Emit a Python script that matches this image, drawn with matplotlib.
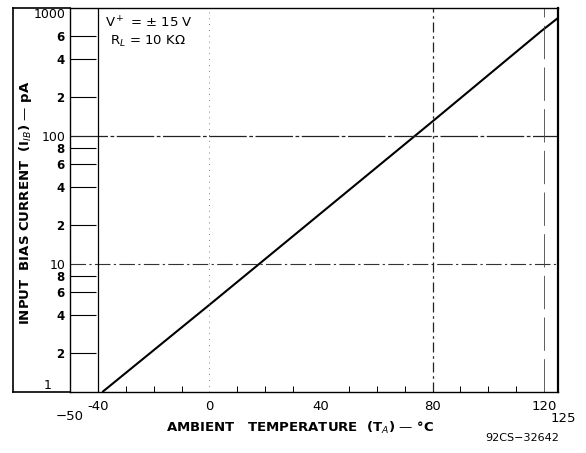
import numpy as np
import matplotlib.pyplot as plt
from matplotlib.lines import Line2D
from matplotlib.ticker import FixedLocator, NullFormatter

plt.rc('font', family='DejaVu Sans', size=9)

# bias current vs ambient temperature
temp_c = [-38.4, 0, 19, 80, 119, 125]
bias_pa = [1.0, 4.8, 10.5, 130, 660, 836]

x_major = [-40, 0, 40, 80, 120]
x_minor = [-30, -20, -10, 10, 20, 30, 50, 60, 70, 90, 100, 110]
y_major = [1, 10, 100, 1000]
y_minor = [2, 4, 6, 8, 20, 40, 60, 80, 200, 400, 600]
y_minor_labels = ['2', '4', '6', '8', '2', '4', '6', '8', '2', '4', '6']

W, H = 586, 453
fig = plt.figure(figsize=(W / 100, H / 100), dpi=100)
left, right, top, bottom = 70, 558, 8, 392
ax = fig.add_axes([left / W, 1 - bottom / H, (right - left) / W, (bottom - top) / H])

ax.set_yscale('log')
ax.set_xlim(-50, 125)
ax.set_ylim(1, 1000)

ax.plot(temp_c, bias_pa, color='black', linewidth=1.5, solid_capstyle='butt')

# grid as on the datasheet
ax.axhline(10, color='#333333', linewidth=0.8, linestyle=(0, (14, 3, 2, 3)))
ax.axhline(100, color='#222222', linewidth=0.9, linestyle=(0, (30, 2, 3, 2)))
ax.axvline(-40, color='black', linewidth=0.9)
ax.axvline(80, color='#222222', linewidth=0.9, linestyle=(0, (8, 3, 2, 3)))
ax.axvline(0, color='#555555', linewidth=0.6, linestyle=(0, (1, 6)))
ax.axvline(120, color='#444444', linewidth=0.6, linestyle=(0, (40, 10)))

for s in ['left', 'top', 'bottom']:
    ax.spines[s].set_linewidth(1.0)
ax.spines['right'].set_linewidth(1.6)

ax.yaxis.set_major_locator(FixedLocator(y_major))
ax.set_yticklabels(['1', '10', '100', '1000'])
ax.set_yticks(y_minor, y_minor_labels, minor=True)
ax.tick_params(axis='y', which='major', length=0, pad=3, labelsize=9)
ax.tick_params(axis='y', which='minor', direction='in', length=18.7, width=0.8,
               pad=4, labelsize=8.5)
for t in ax.yaxis.get_minor_ticks():
    t.label1.set_fontweight('bold')
ylabs = ax.yaxis.get_majorticklabels()
ylabs[0].set_verticalalignment('bottom')
ylabs[0].set_x(-0.03)
ylabs[-1].set_verticalalignment('top')

ax.set_xticks(x_major, ['-40', '0', '40', '80', '120'])
ax.set_xticks(x_minor, minor=True)
ax.tick_params(axis='x', which='major', length=0, pad=6, labelsize=9.5)
ax.tick_params(axis='x', which='minor', direction='in', length=4, width=0.7)

ax.text(-50, -0.065, '\u221250', transform=ax.get_xaxis_transform(),
        ha='center', va='center', fontsize=9.5)
ax.text(127, -0.068, '125', transform=ax.get_xaxis_transform(),
        ha='center', va='center', fontsize=9.5)

ax.text(-37.5, 0.962, 'V$^+$ = \u00b1 15 V', transform=ax.get_xaxis_transform(),
        ha='left', va='center', fontsize=9.5)
ax.text(-35.5, 0.912, 'R$_L$ = 10 K\u03a9', transform=ax.get_xaxis_transform(),
        ha='left', va='center', fontsize=9.5)

fig.text(300 / W, 1 - 428 / H, 'AMBIENT   TEMPERATURE  (T$_A$) \u2014 \u00b0C',
         ha='center', va='center', fontsize=9.5, fontweight='bold')
fig.text(25 / W, 1 - 203 / H, 'INPUT  BIAS CURRENT  (I$_{IB}$) \u2014 pA',
         ha='center', va='center', rotation=90, fontsize=9.5, fontweight='bold')
fig.text(522 / W, 1 - 438 / H, '92CS\u221232642', ha='center', va='center', fontsize=8)

# outer frame left of the -50 line
x0 = 13 / W
for xs, ys in [([x0, x0], [1 - top / H, 1 - bottom / H]),
               ([x0, left / W], [1 - top / H, 1 - top / H]),
               ([x0, left / W], [1 - bottom / H, 1 - bottom / H])]:
    fig.add_artist(Line2D(xs, ys, color='black', linewidth=1.2))

fig.savefig('out.png', dpi=100)
